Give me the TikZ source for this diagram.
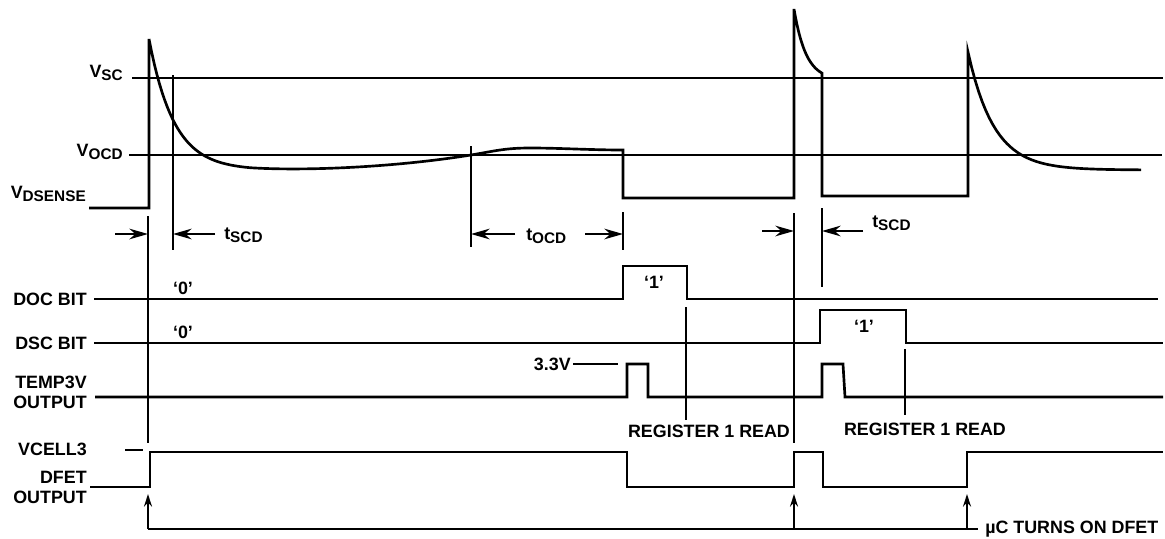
\documentclass[tikz,border=0pt]{standalone}
\usepackage{fontspec}
\setmainfont{Liberation Sans}
\usetikzlibrary{arrows.meta}
\newcommand{\lowtxt}[1]{\raisebox{-2.5pt}{\fontsize{11.5}{13}\selectfont #1}}

\begin{document}
\begin{tikzpicture}[x=0.75pt,y=-0.75pt,
  sig/.style={line width=2pt},
  refline/.style={line width=1.5pt},
  tick/.style={line width=1.5pt},
  leader/.style={line width=1.1pt},
  dimarrow/.style={line width=1.5pt,-{Stealth[length=14pt,width=8pt]}},
  uparrow/.style={line width=1.5pt,-{Stealth[length=9.5pt,width=6pt]}},
  lbl/.style={font=\bfseries\fontsize{13.4}{15}\selectfont,inner sep=0pt},
  ]
\path[use as bounding box] (0,0) rectangle (1165,539);

% threshold levels
\node[lbl,anchor=base east] (vsc) at (123,77) {V\lowtxt{SC}};
\node[lbl,anchor=base east] (vocd) at (123,156) {V\lowtxt{OCD}};
\node[lbl,anchor=base east] (vds) at (86,198) {V\lowtxt{DSENSE}};
\draw[refline] (132,78) -- (1163,78);
\draw[refline] (129,155) -- (1162,155);

% sense voltage
\draw[sig] (89,208) -- (149,208) -- (149,39)
  -- plot[domain=149:250,samples=40,variable=\t] (\t,{170-131*exp(-(\t-149)/25)})
  .. controls (300,171) and (390,168) .. (471,155)
  .. controls (495,151) and (505,148) .. (530,148)
  .. controls (560,148) and (590,150) .. (623,150)
  -- (623,198) -- (794,198) -- (794,9)
  -- plot[domain=794:822,samples=20,variable=\t] (\t,{80-71*exp(-(\t-794)/12)})
  -- (822,196) -- (968,196) -- (968,52)
  -- plot[domain=968:1141,samples=50,variable=\t] (\t,{170-118*exp(-(\t-968)/26)});

% delay times
\coordinate (sa) at (148,234);
\coordinate (sb) at (173,234);
\draw[tick] (148,216) -- (148,443);
\draw[tick] (173,75) -- (173,250);
\draw[dimarrow] (115,234) -- (sa);
\draw[dimarrow] (215,234) -- (sb);
\node[lbl,anchor=base west] (tscda) at (224,239) {t\lowtxt{SCD}};

\coordinate (oa) at (471,234);
\coordinate (ob) at (623,234);
\draw[tick] (471,146) -- (471,247);
\draw[tick] (623,212) -- (623,250);
\draw[dimarrow] (515,234) -- (oa);
\draw[dimarrow] (585,234) -- (ob);
\node[lbl,anchor=base west] (tocd) at (526,240) {t\lowtxt{OCD}};

\coordinate (sc) at (794,231);
\coordinate (sd) at (822,231);
\draw[tick] (794,213) -- (794,443);
\draw[tick] (822,208) -- (822,287);
\draw[dimarrow] (762,231) -- (sc);
\draw[dimarrow] (863,231) -- (sd);
\node[lbl,anchor=base west] (tscdb) at (872,227) {t\lowtxt{SCD}};

% status bits
\node[lbl,anchor=east] (doc) at (87,299) {DOC BIT};
\draw[sig] (94,299) -- (623,299) -- (623,266) -- (687,266) -- (687,299) -- (1158,299);
\node[lbl] (doc0) at (183,288) {‘0’};
\node[lbl] (doc1) at (654,282) {‘1’};

\node[lbl,anchor=east] (dsc) at (87,343) {DSC BIT};
\draw[sig] (94,343) -- (820,343) -- (820,310) -- (906,310) -- (906,343) -- (1163,343);
\node[lbl] (dsc0) at (183,332) {‘0’};
\node[lbl] (dsc1) at (864,326) {‘1’};

\node[lbl,anchor=east,align=right] (temp) at (87,392) {TEMP3V\\OUTPUT};
\draw[sig] (95,397) -- (627,397) -- (627,364) -- (648,364) -- (648,397)
  -- (822,397) -- (822,364) -- (843,364) -- (845,397) -- (1163,397);
\node[lbl,anchor=east] (v33) at (571,364) {3.3V};
\draw[leader] (v33.east) ++(2,0) -- (618,364);

\node[lbl] (rda) at (709,431) {REGISTER 1 READ};
\draw[leader] (686,307) -- (686,420);
\node[lbl] (rdb) at (925,429) {REGISTER 1 READ};
\draw[leader] (905,349) -- (905,415);

% discharge FET
\node[lbl,anchor=east] (vc3) at (87,449) {VCELL3};
\draw[refline] (125,450) -- (143,450);
\node[lbl,anchor=east,align=right] (dfet) at (87,487) {DFET\\OUTPUT};
\draw[sig] (90,487) -- (150,487) -- (150,452) -- (627,452) -- (627,487) -- (794,487)
  -- (794,452) -- (823,452) -- (823,487) -- (967,487) -- (967,452) -- (1163,452);

\draw[refline] (148,529) -- (978,529);
\foreach \xa in {148,794,967}
  \draw[uparrow] (\xa,529) -- (\xa,494);
\node[lbl,anchor=base west] (uc) at (985,533) {µC TURNS ON DFET};
\end{tikzpicture}
\end{document}
